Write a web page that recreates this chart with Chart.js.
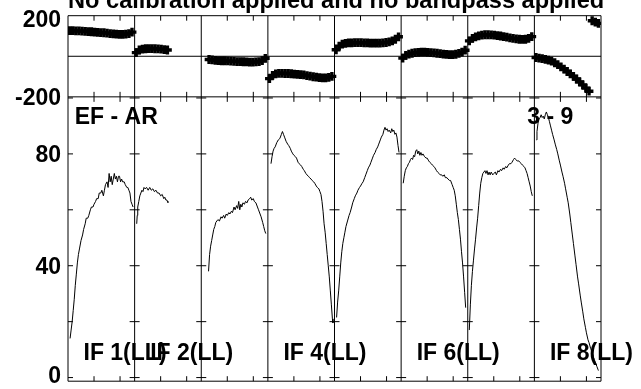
<!DOCTYPE html>
<html><head><meta charset="utf-8">
<script src="https://cdn.jsdelivr.net/npm/chart.js@4.4.1/dist/chart.umd.min.js"></script>
<style>html,body{margin:0;padding:0;background:#fff}canvas{display:block}</style>
</head><body>
<canvas id="c" width="641" height="389"></canvas>
<script>
// ---- data ----
const CHANNELS = 128;                 // channels per IF
const NUM_IF = 8;
const titleText = 'No calibration applied and no bandpass applied';
const baselineText = 'EF - AR';
const timeText = '3 - 9';
const ifLabelNumbers = [1, 2, 4, 6, 8];
const ampTicks = [0, 20, 40, 60, 80, 100];
const ampTickLabels = [0, 40, 80];
const phaseTickLabels = [200, -200];
const chanTicks = [50, 100];

// amplitude: [channel, amplitude]
const ampIF1 = [[4,14],[6,17],[8,20],[10,24],[12,28],[14,33],[16,37],[18,41],[20,44],[22,46],[25,49],[28,51],[30,53],[33,55],[35,57],[38,57],[40,58],[43,60],[45,61],[48,61],[50,62],[53,63],[55,64],[58,64],[60,66],[63,66],[65,67],[68,65],[70,67],[72,69],[75,70],[77,68],[79,73],[81,70],[83,72],[85,69],[87,71],[89,73],[91,71],[93,72],[95,70],[97,72],[99,72],[101,70],[103,71],[105,70],[108,70],[110,69],[113,68],[115,68],[117,67],[119,66],[121,63],[123,62],[125,61]];
const ampIF2 = [[4,55],[5,58],[6,61],[8,63],[10,65],[12,66],[14,67],[16,66.5],[18,68],[20,67.5],[23,68],[26,67],[29,68],[32,67],[35,67.5],[38,66.5],[41,67],[44,66],[47,66],[50,65],[53,65.5],[56,64],[58,64.5],[60,63.5],[62,63.5],[64,62.5],[65,63]];
const ampIF3 = [[14,38],[16,44],[18,47],[20,49],[22,51],[24,53],[26,54],[28,55.5],[30,56],[32,56.5],[35,56],[38,57.5],[40,57],[43,58],[45,57],[48,58.5],[50,58],[53,59],[55,58.5],[58,59.5],[60,59],[63,61],[65,60],[68,61.5],[70,60.5],[72,63],[74,60],[76,62],[78,61],[80,62.5],[83,62],[85,63],[88,62.5],[90,63.5],[93,64],[95,64.5],[97,63.5],[100,64],[102,63],[105,62.5],[108,61],[110,60],[113,58.5],[115,57.5],[118,55.5],[120,54],[122,52.5],[124,51.5]];
const ampIF4 = [[6,76.5],[8,79],[10,81],[12,82],[14,82.5],[17,84],[20,85],[23,85.5],[26,87],[28,88],[30,87],[32,86],[35,84.5],[38,83.5],[40,83],[43,82],[45,81],[48,80],[50,79.5],[53,79],[55,78.5],[58,77],[60,76.5],[63,76],[65,75.5],[68,74.5],[70,74],[73,73],[75,72.5],[78,72],[80,71.5],[83,71],[85,70.5],[88,70],[90,69.5],[93,68.5],[95,68],[98,67.5],[100,66.5],[102,65.5],[104,63],[106,59.5],[108,55],[110,52],[112,48],[114,44],[116,40],[118,36],[120,31],[122,26],[124,21],[125,19.5]];
const ampIF5 = [[4,21.5],[6,27],[8,31],[10,36],[12,41],[14,45],[16,48],[18,50],[20,52],[22,54],[25,56],[28,58],[30,59],[33,61],[35,62.5],[38,64],[40,65],[43,66],[45,67],[48,68],[50,68.5],[53,69.5],[55,70],[58,71.5],[60,72.5],[63,74],[65,75],[68,76],[70,77],[73,78.5],[75,79.5],[78,80.5],[80,81.5],[83,82.5],[85,83.5],[88,85],[90,86],[93,87],[95,88.5],[97,89.5],[99,88.5],[101,89],[103,88],[105,88.5],[108,87.5],[110,89],[112,88],[114,88.5],[116,87],[118,87.5],[120,86],[122,83],[124,80.5]];
const ampIF6 = [[4,69.5],[6,72],[8,74],[10,75],[12,75.5],[14,76.5],[16,77],[18,78],[20,78.5],[22,78],[24,79.5],[26,79],[28,81],[30,81.5],[32,80],[34,81],[36,79.5],[38,80.5],[40,79.5],[42,80],[45,79],[48,78.5],[50,78.5],[53,77.5],[55,77],[58,76.5],[60,76],[63,75.5],[65,75],[68,74],[70,73.5],[73,73],[75,72.5],[78,72.5],[80,72],[83,72.5],[85,71.5],[88,71.5],[90,71],[93,70.5],[95,70.5],[98,69],[100,68],[102,67],[104,65],[106,62],[108,59],[110,56.5],[112,53],[114,49.5],[116,45],[118,41],[120,36],[122,30.5],[124,25]];
const ampIF7 = [[3,17],[5,26],[7,33],[9,38],[11,42],[13,46],[15,49.5],[17,53.5],[19,57],[21,61.5],[23,66],[25,69.5],[27,71.5],[29,73],[31,73.5],[33,74],[35,73],[37,74],[39,72.5],[41,73.5],[43,72.5],[45,73.5],[48,72.5],[50,73],[53,73.5],[55,72.5],[58,74],[60,73.5],[63,74.5],[65,74],[68,75],[70,74.5],[73,75.5],[75,75],[78,76],[80,76.5],[83,76.5],[85,77],[88,78],[90,78.5],[92,78],[95,77.5],[98,77.5],[100,77],[103,76.5],[105,76],[108,75.5],[110,75],[112,74],[114,73],[116,71.5],[118,70],[120,68.5],[122,66.5],[124,65]];
const ampIF8 = [[4,85],[5,88],[7,91],[9,92.5],[11,93],[13,94],[15,93],[17,93.5],[19,92.5],[21,94],[23,95],[25,94],[27,93],[29,91.5],[31,90],[33,88.5],[35,87],[38,85],[40,83.5],[43,81.5],[45,80],[48,77.5],[50,76],[53,73.5],[55,72],[58,69.5],[60,67.5],[63,64.5],[65,62.5],[68,58.5],[70,55.5],[73,51],[75,48],[78,43.5],[80,40.5],[83,36],[85,33.5],[88,29.5],[90,27],[93,23.5],[95,21],[98,18],[100,16],[103,13.5],[105,12.5],[108,10.5],[110,9.5],[113,7.5],[115,6.5],[118,5],[120,4],[122,3],[123,2.5]];

// phase: [channel, phase in degrees]
const phaseIF1 = [[3,126],[9,126],[15,125],[21,125],[27,124],[33,123],[39,122],[45,121],[51,119],[57,118],[63,117],[69,116],[75,114],[81,112],[87,110],[93,109],[99,108],[105,108],[111,109],[117,112],[123,119]];
const phaseIF2 = [[3,18],[9,31],[15,35],[21,37],[27,38],[33,38],[39,37],[45,36],[51,35],[57,33],[63,31]];
const phaseIF3 = [[15,-16],[21,-18],[27,-20],[33,-21],[39,-22],[45,-22],[51,-23],[57,-24],[63,-25],[69,-26],[75,-26],[81,-27],[87,-28],[93,-29],[99,-29],[105,-28],[111,-26],[117,-21],[123,-10]];
const phaseIF4 = [[3,-110],[9,-94],[15,-87],[21,-84],[27,-84],[33,-85],[39,-85],[45,-86],[51,-88],[57,-89],[63,-90],[69,-92],[75,-95],[81,-98],[87,-101],[93,-103],[99,-105],[105,-106],[111,-106],[117,-104],[123,-99]];
const phaseIF5 = [[3,32],[9,50],[15,60],[21,64],[27,66],[33,66],[39,67],[45,67],[51,67],[57,66],[63,66],[69,65],[75,65],[81,65],[87,65],[93,66],[99,68],[105,71],[111,76],[117,84],[123,96]];
const phaseIF6 = [[3,-9],[9,4],[15,11],[21,15],[27,18],[33,19],[39,20],[45,20],[51,19],[57,18],[63,17],[69,15],[75,13],[81,11],[87,9],[93,8],[99,8],[105,10],[111,14],[117,20],[123,30]];
const phaseIF7 = [[3,76],[9,88],[15,96],[21,101],[27,104],[33,106],[39,106],[45,105],[51,104],[57,102],[63,100],[69,97],[75,94],[81,91],[87,88],[93,86],[99,84],[105,83],[111,84],[117,88],[123,97]];
const phaseIF8 = [[3,-6],[9,-9],[15,-12],[21,-15],[27,-19],[33,-24],[39,-32],[45,-41],[51,-52],[57,-63],[63,-75],[69,-87],[75,-99],[81,-112],[87,-126],[93,-141],[99,-157],[105,-172],[111,175],[117,168],[123,162]];

const ampSeries = [ampIF1, ampIF2, ampIF3, ampIF4, ampIF5, ampIF6, ampIF7, ampIF8];
const phaseSeries = [phaseIF1, phaseIF2, phaseIF3, phaseIF4, phaseIF5, phaseIF6, phaseIF7, phaseIF8];

// ---- build ----
const FONT = '"Liberation Sans", Arial, Helvetica, sans-serif';
const toXY = (arr, i) => arr.map(([ch, v]) => ({x: i + ch / CHANNELS, y: v}));

const datasets = [];
phaseSeries.forEach((s, i) => datasets.push({
  type: 'scatter', data: toXY(s, i), yAxisID: 'yP', xAxisID: 'x',
  pointStyle: 'cross', pointRadius: 4.4, borderWidth: 3.4, borderColor: '#000', backgroundColor: '#000',
  pointHoverRadius: 4.4
}));
ampSeries.forEach((s, i) => datasets.push({
  type: 'line', data: toXY(s, i), yAxisID: 'yA', xAxisID: 'x',
  borderColor: '#000', borderWidth: 1, pointRadius: 0, tension: 0, fill: false
}));

const hidden = {ticks: {display: false}, grid: {display: false, drawTicks: false}, border: {display: false}};

const framePlugin = {
  id: 'frame',
  beforeDatasetsDraw(chart) {
    const {ctx, chartArea: a, scales} = chart;
    const x = scales.x, yP = scales.yP, yA = scales.yA;
    ctx.save();
    ctx.strokeStyle = '#000';
    ctx.lineWidth = 1;
    ctx.beginPath();
    ctx.rect(a.left, a.top, a.right - a.left, a.bottom - a.top);
    ctx.moveTo(a.left, yP.bottom); ctx.lineTo(a.right, yP.bottom);
    const z = yP.getPixelForValue(0);
    ctx.moveTo(a.left, z); ctx.lineTo(a.right, z);
    for (let i = 1; i < NUM_IF; i++) {
      const px = x.getPixelForValue(i);
      ctx.moveTo(px, a.top); ctx.lineTo(px, a.bottom);
    }
    const T = 5;
    for (const v of ampTicks) {
      const py = yA.getPixelForValue(v);
      for (let i = 0; i <= NUM_IF; i++) {
        const px = x.getPixelForValue(i);
        ctx.moveTo(i === 0 ? px : px - T, py);
        ctx.lineTo(i === NUM_IF ? px : px + T, py);
      }
    }
    for (let i = 0; i < NUM_IF; i++) {
      for (const c of chanTicks) {
        const px = x.getPixelForValue(i + c / CHANNELS);
        ctx.moveTo(px, a.top); ctx.lineTo(px, a.top + T);
        ctx.moveTo(px, yP.bottom - T); ctx.lineTo(px, yP.bottom + T);
        ctx.moveTo(px, a.bottom); ctx.lineTo(px, a.bottom - T);
      }
    }
    ctx.stroke();
    ctx.restore();
  },
  afterDraw(chart) {
    const {ctx, chartArea: a, scales} = chart;
    const x = scales.x, yP = scales.yP, yA = scales.yA;
    ctx.save();
    ctx.fillStyle = '#000';
    ctx.font = 'bold 23.6px ' + FONT;
    ctx.textBaseline = 'alphabetic';
    // title
    ctx.textAlign = 'left';
    ctx.fillText(titleText, a.left, a.top - 8);
    // axis labels
    ctx.font = 'bold 23px ' + FONT;
    ctx.textAlign = 'right';
    const lx = a.left - 7;
    for (const v of phaseTickLabels) {
      let b = yP.getPixelForValue(v) + 8.3;
      b = Math.max(b, a.top + 11);
      ctx.fillText(String(v), lx, b);
    }
    for (const v of ampTickLabels) {
      let b = yA.getPixelForValue(v) + 8.4;
      b = Math.min(b, a.bottom + 1.7);
      ctx.fillText(String(v), lx, b);
    }
    // annotations
    ctx.textAlign = 'left';
    ctx.fillText(baselineText, a.left + 6.7, yP.bottom + 26.7);
    ctx.textAlign = 'right';
    ctx.fillText(timeText, a.right - 27.7, yP.bottom + 27);
    ctx.textAlign = 'left';
    const by = yA.getPixelForValue(0) - 17.3;
    for (const n of ifLabelNumbers) {
      ctx.fillText('IF ' + n + '(LL)', x.getPixelForValue(n - 1) + 15.5, by);
    }
    ctx.restore();
  }
};

new Chart(document.getElementById('c'), {
  data: {datasets},
  options: {
    responsive: false, animation: false, devicePixelRatio: 1,
    layout: {padding: {left: 68, right: 40, top: 15.7, bottom: 4}},
    plugins: {legend: {display: false}, tooltip: {enabled: false}, title: {display: false}},
    events: [],
    scales: {
      x: Object.assign({type: 'linear', min: 0, max: NUM_IF, position: 'bottom'}, hidden),
      yA: Object.assign({type: 'linear', min: -1.3, max: 100.4, position: 'left', stack: 'panels', stackWeight: 287.3, offset: false}, hidden),
      yP: Object.assign({type: 'linear', min: -200, max: 200, position: 'left', stack: 'panels', stackWeight: 82, offset: false}, hidden)
    }
  },
  plugins: [framePlugin]
});
</script>
</body></html>
